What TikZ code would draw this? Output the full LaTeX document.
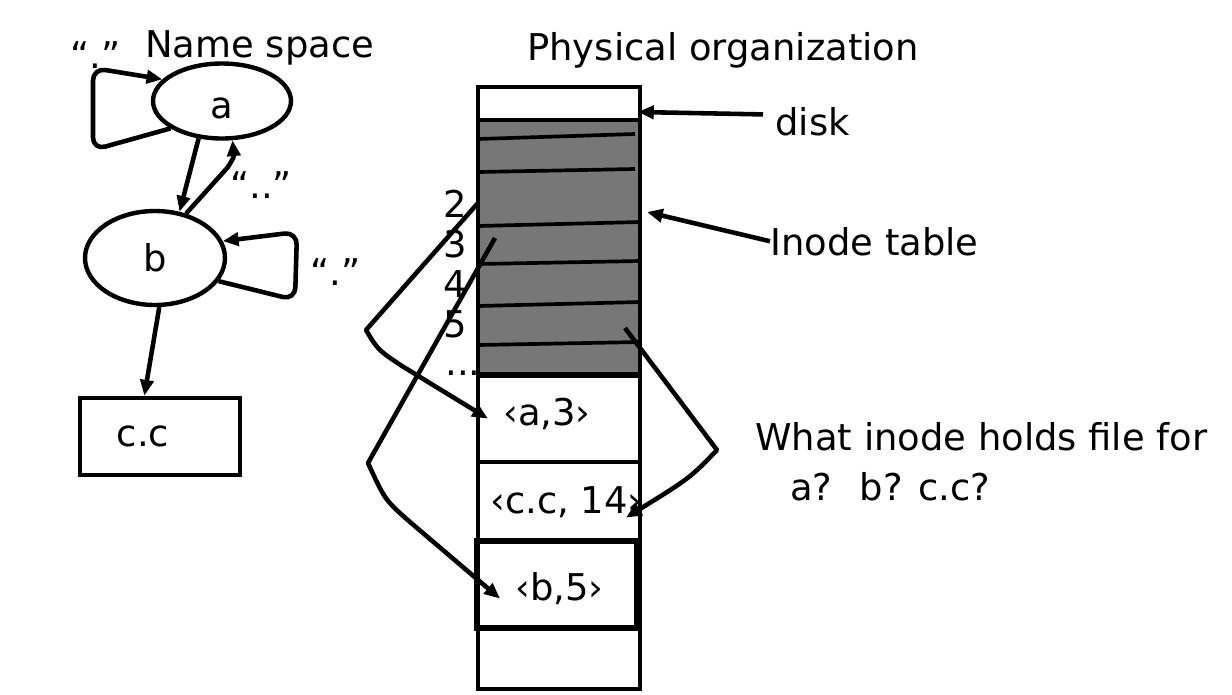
\documentclass[tikz,border=0pt]{standalone}
\usepackage{fontspec}
\setmainfont{DejaVu Sans}
\usetikzlibrary{arrows.meta}
\usetikzlibrary{shapes.geometric}
\definecolor{tablegray}{RGB}{119,119,119}

\begin{document}
\begin{tikzpicture}[
    x=0.02cm, y=-0.02cm,
    oval/.style={draw, ellipse, line width=2.5pt, inner sep=0pt, font=\fontsize{21}{25}\selectfont},
    leaf/.style={draw, rectangle, line width=2.6pt, minimum width=3.2cm, minimum height=1.54cm, font=\fontsize{21}{25}\selectfont},
    txt/.style={inner sep=0pt, anchor=base west, font=\fontsize{21}{25}\selectfont},
    entry/.style={txt, inner xsep=0.3cm},
    link/.style={-{Triangle[length=9pt,width=7.5pt]}, line width=2.6pt, line join=round},
    cell/.style={line width=2.1pt}
]
    \useasboundingbox (0,0) rectangle (1232,694);

    % Name space
    \node[txt] (nsp) at (145,57) {Name space};
    \node[oval, minimum width=2.76cm, minimum height=1.5cm, text height=20pt] (a) at (222,101) {a};
    \node[oval, minimum width=2.8cm, minimum height=1.88cm] (b) at (155,258) {b};
    \node[leaf] (cc) at (160,436.5) {c.c\hspace*{0.68cm}};
    \node[txt] (dotA) at (70,68) {“.”};
    \node[txt] (dotB) at (310,285) {“.”};
    \node[txt] (dotdot) at (230,198) {“..”};

    % Name space links
    \draw[link] (a.238) -- (b.62);
    \draw[link] (b.55) -- (228,167) .. controls (234,157) .. (a.285);
    \draw[link, rounded corners=0.25cm] (a.208) -- (93,150) -- (93,68) -- (a.160);
    \draw[link, rounded corners=0.25cm] (b.340) -- (295,300) -- (297,232) -- (b.14);
    \draw[link] (b.275) -- (cc.111);

    % Physical organization
    \node[txt] (phys) at (527,60) {Physical organization};
    \fill[tablegray] (478,120) rectangle (640,375);
    \draw[cell] (478,87) rectangle (640,689);
    \draw[cell] (478,120) -- (640,120);
    \foreach \ya/\yb/\xe in {139/134/635, 172/169/635, 226/222/640, 264/261/640, 306/302/640, 345/342/640}
        \draw[cell] (478,\ya) -- (\xe,\yb);
    \draw[line width=3.6pt] (478,375) -- (640,375);
    \foreach \y in {462,542,627}
        \draw[cell] (478,\y) -- (640,\y);
    \draw[line width=3pt] (477,541) rectangle (637,628);

    % Inode numbers
    \foreach \n/\y in {2/217, 3/257, 4/297, 5/337}
        \node[txt] (row\n) at (443,\y) {\n};
    \node[txt] (rowdots) at (445,375) {...};

    % Directory entries
    \node[entry] (a3) at (488,425) {‹a,3›};
    \node[entry] (cc14) at (475,513) {‹c.c, 14›};
    \node[entry] (b5) at (500,600) {‹b,5›};

    % Entry links
    \coordinate (row2edge) at (478,203);
    \coordinate (row3in) at (495,238);
    \coordinate (row5in) at (625,328);
    \draw[link] (row2edge) -- (366,330) .. controls (378,350) .. (402,366) -- (a3.185);
    \draw[link] (row3in) -- (368,463) .. controls (385,500) .. (410,522) -- (b5.190);
    \draw[link] (row5in) -- (717,450) .. controls (690,478) .. (cc14.345);

    % Labels on the right
    \node[txt] (disk) at (775,135) {disk};
    \node[txt] (itab) at (770,255) {Inode table};
    \coordinate (diskedge) at (638,112);
    \coordinate (tabedge) at (647,212);
    \draw[link, shorten <=0.24cm] (disk.170) -- (diskedge);
    \draw[link] (itab.west) -- (tabedge);

    % Question
    \node[txt] (q1) at (755,450) {What inode holds file for};
    \node[txt] (q2) at (790,500) {a?~ b? c.c?};
\end{tikzpicture}
\end{document}
